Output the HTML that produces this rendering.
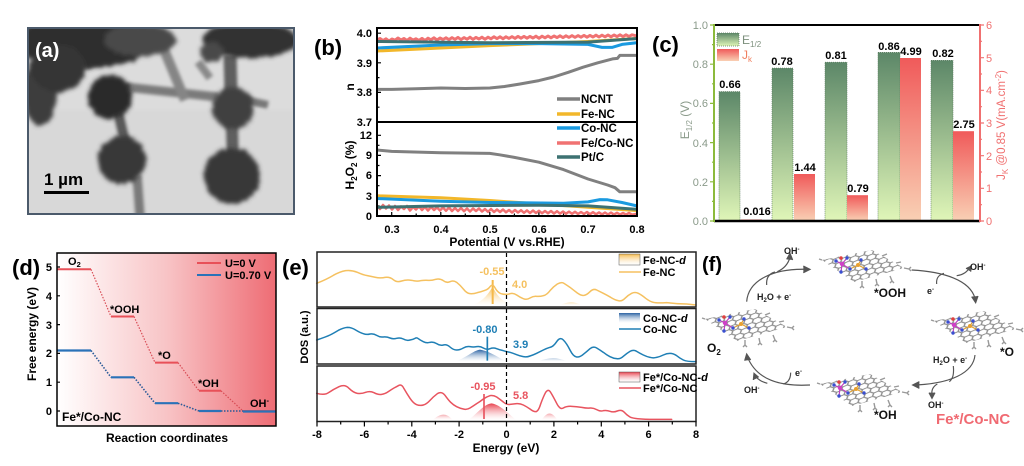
<!DOCTYPE html>
<html><head><meta charset="utf-8"><style>
html,body{margin:0;padding:0;background:#fff;}
svg{display:block;}
text{font-family:"Liberation Sans",Arial,sans-serif;}
</style></head><body>
<svg width="1024" height="466" viewBox="0 0 1024 466" xmlns="http://www.w3.org/2000/svg">
<defs>
<filter id="blur" x="-10%" y="-10%" width="120%" height="120%"><feGaussianBlur stdDeviation="1.6"/></filter>
<filter id="fuzz" x="-20%" y="-20%" width="140%" height="140%">
<feTurbulence type="fractalNoise" baseFrequency="0.25" numOctaves="2" seed="3" result="n"/>
<feDisplacementMap in="SourceGraphic" in2="n" scale="6" xChannelSelector="R" yChannelSelector="G" result="d"/>
<feGaussianBlur in="d" stdDeviation="2"/>
</filter>
<clipPath id="clipA"><rect x="28" y="28" width="266" height="186"/></clipPath>
<linearGradient id="gGreen" x1="0" y1="0" x2="0" y2="1"><stop offset="0" stop-color="#5c8768"/><stop offset="1" stop-color="#e0f6b8"/></linearGradient>
<linearGradient id="gRed" x1="0" y1="0" x2="0" y2="1"><stop offset="0" stop-color="#f05a5a"/><stop offset="1" stop-color="#f9d0b4"/></linearGradient>
<linearGradient id="gD" x1="0" y1="0" x2="1" y2="0"><stop offset="0" stop-color="#ffffff"/><stop offset="0.5" stop-color="#f8c4c6"/><stop offset="1" stop-color="#ee6c74"/></linearGradient>
<linearGradient id="gOr" x1="0" y1="0" x2="0" y2="1"><stop offset="0" stop-color="#f5b94a"/><stop offset="1" stop-color="#ffffff" stop-opacity="0.3"/></linearGradient>
<linearGradient id="gBl" x1="0" y1="0" x2="0" y2="1"><stop offset="0" stop-color="#2a62a3"/><stop offset="1" stop-color="#ffffff" stop-opacity="0.3"/></linearGradient>
<linearGradient id="gRd" x1="0" y1="0" x2="0" y2="1"><stop offset="0" stop-color="#e8404c"/><stop offset="1" stop-color="#ffffff" stop-opacity="0.3"/></linearGradient>
<pattern id="hexp" width="8.66" height="15" patternUnits="userSpaceOnUse" patternTransform="rotate(-6) skewX(-25) scale(1,0.62)">
<path d="M4.33,0 L8.66,2.5 L8.66,7.5 L4.33,10 L0,7.5 L0,2.5 Z M4.33,10 L4.33,15" fill="none" stroke="#8c8c8c" stroke-width="1.5"/>
</pattern>
<g id="mol">
<polygon points="2,10 52,0 84,18 34,32" fill="url(#hexp)"/>
<g stroke="#999" stroke-width="1.4" fill="none">
<path d="M84,18 l5,1 M89,19 l2,-2 M89,19 l2,2"/>
<path d="M70,26 l2,5 M72,31 l-2,2 M72,31 l2,2"/>
<path d="M56,29 l1,5 M57,34 l-2,2 M57,34 l2,2"/>
<path d="M42,31 l0,5 M42,36 l-2,2 M42,36 l2,2"/>
<path d="M2,10 l-3,-1 M76,13 l5,-1 M62,6 l5,-2"/>
</g>
<g stroke="#c040c0" stroke-width="1.2"><path d="M22,14 L16,11 M22,14 L27,8 M22,14 L30,19 M22,14 L21,22"/></g>
<g stroke="#e0a030" stroke-width="1.2"><path d="M38,15 L30,19 M38,15 L41,10 M38,15 L46,19"/></g>
<circle cx="16" cy="11" r="1.7" fill="#3a4fd0"/><circle cx="27" cy="8" r="1.7" fill="#3a4fd0"/><circle cx="30" cy="19" r="1.7" fill="#3a4fd0"/><circle cx="21" cy="22" r="1.7" fill="#3a4fd0"/><circle cx="41" cy="10" r="1.7" fill="#3a4fd0"/><circle cx="46" cy="19" r="1.7" fill="#3a4fd0"/>
<circle cx="22" cy="14" r="2.2" fill="#d040c8"/><circle cx="38" cy="15" r="2" fill="#e8a030"/>
<circle cx="21" cy="8" r="1.8" fill="#e04040"/>
</g>
</defs>
<rect width="1024" height="466" fill="#fff"/>

<!-- ============ (a) TEM ============ -->
<rect x="28" y="28" width="266" height="186" fill="#dcdcdc"/>
<g clip-path="url(#clipA)">
<g filter="url(#blur)">
<rect x="28" y="110" width="266" height="104" fill="#d8d8d8"/>
<line x1="125" y1="87" x2="218" y2="97" stroke="#7a7a7a" stroke-width="9"/>
<line x1="160" y1="40" x2="185" y2="100" stroke="#858585" stroke-width="10"/>
<line x1="230" y1="55" x2="233" y2="165" stroke="#5e5e5e" stroke-width="13"/>
<line x1="137" y1="175" x2="140" y2="216" stroke="#7a7a7a" stroke-width="10"/>
<line x1="118" y1="112" x2="125" y2="142" stroke="#5a5a5a" stroke-width="11"/>
<line x1="245" y1="100" x2="268" y2="105" stroke="#777" stroke-width="8"/>
<line x1="70" y1="70" x2="110" y2="58" stroke="#8a8a8a" stroke-width="8"/>
<line x1="198" y1="62" x2="210" y2="78" stroke="#8a8a8a" stroke-width="8"/>
</g>
<g filter="url(#fuzz)">
<ellipse cx="85" cy="42" rx="70" ry="26" fill="#2e2e2e"/>
<ellipse cx="40" cy="92" rx="17" ry="34" fill="#3e3e3e"/>
<ellipse cx="58" cy="68" rx="28" ry="24" fill="#363636"/>
<ellipse cx="140" cy="40" rx="36" ry="16" fill="#4a4a4a"/>
<ellipse cx="250" cy="40" rx="48" ry="18" fill="#303030"/>
<ellipse cx="212" cy="52" rx="12" ry="10" fill="#4a4a4a"/>
<circle cx="110" cy="97" r="22" fill="#2c2c2c"/>
<circle cx="122" cy="160" r="24" fill="#383838"/>
<circle cx="233" cy="108" r="21" fill="#414141"/>
<circle cx="232" cy="176" r="28" fill="#373737"/>
</g>
</g>
<rect x="28" y="28" width="266" height="186" fill="none" stroke="#4b5a6b" stroke-width="2"/>
<text x="35" y="57" font-size="20" font-weight="bold" fill="#fff">(a)</text>
<text x="44" y="185" font-size="17" font-weight="bold" fill="#000">1 µm</text>
<rect x="44" y="191" width="45" height="3" fill="#000"/>

<!-- ============ (b) ============ -->
<text x="314" y="55" font-size="22" font-weight="bold">(b)</text>
<g font-size="11" font-weight="bold" text-anchor="end">
<text x="372" y="37">4.0</text><text x="372" y="67">3.9</text><text x="372" y="96">3.8</text><text x="372" y="126">3.7</text>
<text x="372" y="139">12</text><text x="372" y="159">9</text><text x="372" y="179">6</text><text x="372" y="200">3</text><text x="372" y="220">0</text>
</g>
<g font-size="11" font-weight="bold" text-anchor="middle">
<text x="392" y="233">0.3</text><text x="441" y="233">0.4</text><text x="490" y="233">0.5</text><text x="539" y="233">0.6</text><text x="588" y="233">0.7</text><text x="637" y="233">0.8</text>
</g>
<text x="507" y="246" font-size="12" font-weight="bold" text-anchor="middle">Potential (V vs.RHE)</text>
<text transform="translate(354,87) rotate(-90)" font-size="12" font-weight="bold" text-anchor="middle">n</text>
<text transform="translate(354,165) rotate(-90)" font-size="12" font-weight="bold" text-anchor="middle">H<tspan font-size="8" dy="3">2</tspan><tspan dy="-3">O</tspan><tspan font-size="8" dy="3">2</tspan><tspan dy="-3"> (%)</tspan></text>
<g stroke="#000" stroke-width="1.2">
<path d="M377,33.2h4M377,62.8h4M377,92.4h4M377,48h2.5M377,77.6h2.5M377,107.2h2.5"/>
<path d="M377,135.3h4M377,155.4h4M377,175.6h4M377,195.8h4M377,145.3h2.5M377,165.5h2.5M377,185.7h2.5M377,205.9h2.5"/>
<path d="M391.7,216v-4M440.8,216v-4M489.8,216v-4M538.9,216v-4M588,216v-4M416.2,216v-2.5M465.3,216v-2.5M514.4,216v-2.5M563.5,216v-2.5M612.5,216v-2.5"/>
</g>
<g fill="none" stroke-width="3" stroke-linejoin="round">
<polyline stroke="#808080" points="377,89.4 391.7,89.4 416.2,88.8 440.8,88 465.3,88.5 489.8,88 504.5,86.5 519.3,84.1 538.9,80.6 553.6,77 568.3,72.3 583.1,67.2 597.8,62.8 612.5,58.9 617.4,58.4 619.8,55.4 637,55.4"/>
<polyline stroke="#f2b72a" points="377,51 440.8,48 489.8,45.6 538.9,43.6 588,41.5 637,38.5"/>
<polyline stroke="#1a9ae0" points="377,48 440.8,45 489.8,43.6 538.9,43.6 588,44.4 602,47.4 612,47.4 622,44.4 637,42.7"/>
<polyline stroke="#f07272" stroke-width="3" points="377,40 380,38.5 383,40.5 386,38.8 389,41 392,39 395,40.2 398,38 401,40 404,38.5 407,40.5 410,38.2 413,40 416,38.8 419,40.4 422,38.4 425,40.5 428,38.2 431,39.8 434,37.8 437,40 440,38 443,39.5 446,37.8 449,39.6 452,37.6 455,39.4 458,37.4 461,39.6 464,37.6 467,39.2 470,37.2 473,39.4 476,37.4 479,39 482,37.2 485,39.2 488,37.2 491,38.8 494,36.8 497,38.6 500,36.8 503,38.8 506,36.8 509,38.4 512,36.6 515,38.4 518,36.4 521,38.2 524,36.4 527,38.2 530,36.4 533,38 536,36.2 539,38.2 542,36.2 545,37.8 548,36 551,37.8 554,36 557,37.6 560,35.8 563,37.6 566,35.8 569,37.4 572,35.6 575,37.4 578,35.6 581,37.2 584,35.4 587,37.2 590,35.4 593,37 596,35.2 599,37 602,35.2 605,36.8 608,35 611,36.8 614,35 617,36.6 620,34.8 623,36.6 626,34.8 629,36.4 632,34.8 637,36"/>
<polyline stroke="#3d7272" points="377,41.5 489.8,42.7 588,42.1 637,38.5"/>
<polyline stroke="#808080" points="377,150 391.7,151.4 440.8,152.7 489.8,153.4 499.6,154.8 514.4,157.4 538.9,162.2 563.5,169.6 588,179 607.6,185 615,187.7 619.8,191.8 637,191.8"/>
<polyline stroke="#f2b72a" points="377,195.8 440.8,197.8 489.8,200.5 538.9,203.9 588,207.3 637,210.6"/>
<polyline stroke="#1a9ae0" points="377,198.5 440.8,201.2 489.8,202.5 563.5,203.2 588,201.9 600,199.6 607.6,199.8 622,202.5 637,205.9"/>
<polyline stroke="#f07272" stroke-width="2.5" points="377,206 380,209 383,205 386,208.5 389,205.5 392,209.5 395,206 398,210 401,206.5 404,209 407,206 410,210.5 413,207 416,209.5 419,206.5 422,210 425,207 428,210.5 431,207 434,210 437,207.5 440,210.5 443,207.5 446,210.8 449,207.5 452,211 455,208 458,211 461,208 464,211.2 467,208.5 470,211.5 473,208.5 476,211 479,208.5 482,211.5 485,209 488,211.8 491,209 494,212 497,209.5 500,212 503,209.5 506,212.3 509,210 512,212.5 515,210 518,212.5 521,210.2 524,212.8 527,210.4 530,213 533,210.5 536,213 539,210.8 542,213.2 545,211 548,213.3 551,211 554,213.5 557,211.2 560,213.6 563,211.5 566,213.7 569,211.6 572,213.8 575,211.8 578,214 581,212 584,214 587,212 590,214.2 593,212.2 596,214.3 599,212.4 602,214.4 605,212.5 608,214.5 611,212.6 614,214.5 617,212.8 620,214.6 623,213 626,214.6 629,213 632,214.6 637,213.8"/>
<polyline stroke="#3d7272" points="377,207.3 440.8,205.9 538.9,205.2 588,205.9 637,209.3"/>
</g>
<rect x="377" y="28" width="260" height="188" fill="none" stroke="#000" stroke-width="2"/>
<line x1="377" y1="122" x2="637" y2="122" stroke="#000" stroke-width="2"/>
<g stroke-width="3.5">
<line x1="557" y1="99" x2="580" y2="99" stroke="#808080"/>
<line x1="557" y1="114" x2="580" y2="114" stroke="#f2b72a"/>
<line x1="557" y1="128" x2="580" y2="128" stroke="#1a9ae0"/>
<line x1="557" y1="143" x2="580" y2="143" stroke="#f07272"/>
<line x1="557" y1="157" x2="580" y2="157" stroke="#3d7272"/>
</g>
<g font-size="11.5" font-weight="bold">
<text x="581" y="103">NCNT</text><text x="581" y="118">Fe-NC</text><text x="581" y="132">Co-NC</text><text x="581" y="147">Fe/Co-NC</text><text x="581" y="161">Pt/C</text>
</g>

<!-- ============ (c) ============ -->
<text x="652" y="52" font-size="22" font-weight="bold">(c)</text>
<g stroke="#5a7a5e" stroke-width="0.7" stroke-dasharray="1,1">
<rect x="719" y="91.6" width="21" height="129.4" fill="url(#gGreen)"/>
<rect x="772" y="68.1" width="21" height="152.9" fill="url(#gGreen)"/>
<rect x="825" y="62.2" width="22" height="158.8" fill="url(#gGreen)"/>
<rect x="878" y="52.4" width="22" height="168.6" fill="url(#gGreen)"/>
<rect x="931" y="60.3" width="22" height="160.7" fill="url(#gGreen)"/>
</g>
<rect x="741" y="219.5" width="21" height="1.5" fill="url(#gRed)"/>
<rect x="794" y="174" width="21" height="47" fill="url(#gRed)"/>
<rect x="847" y="195.2" width="21" height="25.8" fill="url(#gRed)"/>
<rect x="900" y="58" width="21" height="163" fill="url(#gRed)"/>
<rect x="953" y="131.2" width="21" height="89.8" fill="url(#gRed)"/>
<g font-size="11" font-weight="bold" text-anchor="middle">
<text x="730" y="88">0.66</text><text x="757" y="215">0.016</text><text x="782" y="65">0.78</text><text x="805" y="171">1.44</text>
<text x="836" y="59">0.81</text><text x="858" y="192">0.79</text><text x="889" y="50">0.86</text><text x="911" y="55">4.99</text>
<text x="943" y="57">0.82</text><text x="964" y="128">2.75</text>
</g>
<line x1="714" y1="25" x2="980" y2="25" stroke="#000" stroke-width="2"/>
<line x1="714" y1="221" x2="980" y2="221" stroke="#000" stroke-width="2.5"/>
<line x1="714" y1="24" x2="714" y2="222" stroke="#8cba3c" stroke-width="2"/>
<line x1="980" y1="24" x2="980" y2="222" stroke="#f07070" stroke-width="2"/>
<g stroke="#8cba3c" stroke-width="1.2"><path d="M714,221h-4M714,181.8h-4M714,142.6h-4M714,103.4h-4M714,64.2h-4M714,25h-4M714,201.4h-2M714,162.2h-2M714,123h-2M714,83.8h-2M714,44.6h-2"/></g>
<g stroke="#f07070" stroke-width="1.2"><path d="M980,221h4M980,188.3h4M980,155.7h4M980,123h4M980,90.3h4M980,57.7h4M980,25h4M980,204.7h2M980,172h2M980,139.3h2M980,106.7h2M980,74h2M980,41.3h2"/></g>
<g font-size="11" fill="#8a9a8a" text-anchor="end">
<text x="708" y="225">0.0</text><text x="708" y="186">0.2</text><text x="708" y="147">0.4</text><text x="708" y="107">0.6</text><text x="708" y="68">0.8</text><text x="708" y="29">1.0</text>
</g>
<g font-size="11" fill="#f07070">
<text x="986" y="225">0</text><text x="986" y="192">1</text><text x="986" y="160">2</text><text x="986" y="127">3</text><text x="986" y="94">4</text><text x="986" y="62">5</text><text x="986" y="29">6</text>
</g>
<text transform="translate(689,120) rotate(-90)" font-size="12" fill="#8a9a8a" text-anchor="middle">E<tspan font-size="8" dy="3">1/2</tspan><tspan dy="-3"> (V)</tspan></text>
<text transform="translate(1005,125) rotate(-90)" font-size="11.5" fill="#f07070" text-anchor="middle">J<tspan font-size="8" dy="3">K</tspan><tspan dy="-3"> @0.85 V(mA.cm</tspan><tspan font-size="8" dy="-4">-2</tspan><tspan dy="4">)</tspan></text>
<rect x="717" y="33" width="22" height="13" fill="url(#gGreen)" stroke="#5a7a5e" stroke-width="0.7" stroke-dasharray="1,1"/>
<rect x="717" y="49" width="22" height="12" fill="url(#gRed)"/>
<text x="742" y="44" font-size="12" fill="#7c8f7c">E<tspan font-size="8" dy="3">1/2</tspan></text>
<text x="742" y="59" font-size="12" fill="#f08060">J<tspan font-size="8" dy="3">k</tspan></text>

<!-- ============ (d) ============ -->
<text x="12" y="275" font-size="22" font-weight="bold">(d)</text>
<rect x="57" y="253" width="219" height="173" fill="url(#gD)"/>
<g stroke-width="1.2" stroke-dasharray="1.5,1.5" fill="none">
<path stroke="#d84c55" d="M91,269.3L111,316.5M134,316.5L155,362.6M178,362.6L199,390.8M221,390.8L243,411"/>
<path stroke="#2a5a98" stroke-width="1.6" d="M91,350.5L111,377.3M134,377.3L155,403.2M178,403.2L199,411M221,411L243,411"/>
</g>
<g stroke="#e85058" stroke-width="2">
<path d="M57,269.3H91M111,316.5H134M155,362.6H178M199,390.8H221M243,411H276"/>
</g>
<g stroke="#2a72b8" stroke-width="2.2">
<path d="M57,350.5H91M111,377.3H134M155,403.2H178M199,411H221M243,411.5H276"/>
</g>
<rect x="57" y="253" width="219" height="173" fill="none" stroke="#000" stroke-width="1.5"/>
<g stroke="#000" stroke-width="1.2"><path d="M57,267h3M57,295.8h3M57,324.6h3M57,353.4h3M57,382.2h3M57,411h3"/></g>
<g font-size="11" font-weight="bold" text-anchor="end">
<text x="52" y="271">5</text><text x="52" y="300">4</text><text x="52" y="329">3</text><text x="52" y="357">2</text><text x="52" y="386">1</text><text x="52" y="415">0</text>
</g>
<text transform="translate(36,334) rotate(-90)" font-size="12" font-weight="bold" text-anchor="middle">Free energy (eV)</text>
<text x="167" y="442" font-size="12" font-weight="bold" text-anchor="middle">Reaction coordinates</text>
<g font-size="11" font-weight="bold">
<text x="68" y="265">O<tspan font-size="7.5" dy="2">2</tspan></text>
<text x="110" y="313">*OOH</text>
<text x="158" y="359">*O</text>
<text x="198" y="387">*OH</text>
<text x="250" y="407">OH<tspan font-size="7.5" dy="-4">-</tspan></text>
<text x="62" y="421" font-size="12">Fe*/Co-NC</text>
<text x="225" y="267">U=0 V</text>
<text x="225" y="279">U=0.70 V</text>
</g>
<line x1="197" y1="263" x2="221" y2="263" stroke="#e85058" stroke-width="2"/>
<line x1="197" y1="275" x2="221" y2="275" stroke="#2a72b8" stroke-width="2"/>

<!-- ============ (e) ============ -->
<text x="282" y="275" font-size="22" font-weight="bold">(e)</text>
<g transform="translate(300,240) scale(0.33333)">
<path d="M515,196 C540,188 560,172 578,140 C592,172 612,188 642,196 Z" fill="url(#gOr)"/>
<path d="M780,196 C800,186 820,182 845,196 Z" fill="url(#gOr)" opacity="0.4"/>
<line x1="578" y1="120" x2="578" y2="192" stroke="#f5b94a" stroke-width="6"/>
<path d="M468,364 C500,352 520,332 540,329 C562,332 590,348 616,364 Z" fill="url(#gBl)"/>
<path d="M715,364 C740,354 770,350 800,364 Z" fill="url(#gBl)" opacity="0.35"/>
<line x1="562" y1="290" x2="562" y2="362" stroke="#1f7fb5" stroke-width="5"/>
<path d="M505,540 C530,522 552,492 575,490 C600,494 625,520 648,540 Z" fill="url(#gRd)"/>
<path d="M398,540 C418,522 438,515 458,540 Z" fill="url(#gRd)" opacity="0.45"/>
<path d="M725,540 C740,516 755,512 772,540 Z" fill="url(#gRd)" opacity="0.45"/>
<line x1="552" y1="462" x2="552" y2="537" stroke="#e8545f" stroke-width="5"/>
<g fill="none" stroke-width="4.5" stroke-linejoin="round" stroke-linecap="round">
<path stroke="#f5c160" d="M50,130 Q80,118 100,106 Q120,95 137,92 Q155,90 172,97 Q190,105 202,107 Q215,110 227,112 Q240,115 255,112 Q270,110 280,119 Q290,128 305,123 Q320,118 335,121 Q350,125 362,122 Q375,120 385,121 Q395,122 407,118 Q420,115 430,122 Q440,130 450,125 Q460,120 470,127 Q480,135 490,147 Q500,160 510,161 Q520,162 532,158 Q545,155 555,151 Q565,148 571,139 Q578,130 586,145 Q595,160 607,162 Q620,165 630,161 Q640,158 650,165 Q660,172 670,176 Q680,180 690,174 Q700,168 710,169 Q720,170 730,167 Q740,165 750,152 Q760,140 772,132 Q785,125 792,130 Q800,135 810,142 Q820,150 832,159 Q845,168 852,166 Q860,165 870,155 Q880,145 890,150 Q900,155 910,160 Q920,165 932,172 Q945,180 955,182 Q965,185 975,175 Q985,165 995,160 Q1005,155 1015,160 Q1025,165 1037,175 Q1050,185 1060,187 Q1070,190 1100,188 Q1130,192 1160,192 L1188,195"/>
<path stroke="#1f7fb5" d="M50,300 Q80,290 90,285 Q100,280 115,271 Q130,263 142,262 Q155,262 167,270 Q180,278 190,281 Q200,285 210,282 Q220,280 230,286 Q240,292 250,291 Q260,290 270,294 Q280,298 290,295 Q300,292 310,297 Q320,303 330,300 Q340,298 345,295 Q350,292 355,296 Q360,300 370,305 Q380,310 390,307 Q400,305 410,311 Q420,318 430,315 Q440,312 450,321 Q460,330 470,330 Q480,330 490,324 Q500,318 510,320 Q520,322 530,320 Q540,318 550,324 Q560,330 570,326 Q580,322 590,326 Q600,330 610,332 Q620,335 630,337 Q640,340 650,344 Q660,348 670,350 Q680,352 690,348 Q700,345 710,340 Q720,335 730,330 Q740,325 750,322 Q760,320 770,305 Q780,290 790,300 Q800,310 810,330 Q820,350 830,351 Q840,352 850,343 Q860,335 870,326 Q880,318 890,324 Q900,330 910,337 Q920,345 930,350 Q940,355 950,356 Q960,358 970,349 Q980,340 990,334 Q1000,328 1010,334 Q1020,340 1030,345 Q1040,350 1050,352 Q1060,355 1070,352 Q1080,350 1090,345 Q1100,340 1110,340 Q1120,340 1130,347 Q1140,355 1150,360 Q1160,365 1188,365"/>
<path stroke="#e8545f" d="M50,460 Q75,467 87,457 Q100,448 117,440 Q135,432 147,445 Q160,458 172,460 Q185,462 197,457 Q210,452 222,458 Q235,465 245,463 Q255,462 265,455 Q275,448 282,444 Q290,440 297,436 Q305,432 312,446 Q320,460 330,475 Q340,490 350,494 Q360,498 370,495 Q380,492 390,481 Q400,470 412,461 Q425,453 435,466 Q445,480 452,487 Q460,495 470,500 Q480,505 490,507 Q500,510 510,504 Q520,498 530,491 Q540,485 550,477 Q560,470 570,467 Q580,465 590,471 Q600,478 610,486 Q620,495 630,493 Q640,492 650,491 Q660,490 670,495 Q680,500 690,507 Q700,515 707,515 Q715,515 722,492 Q730,470 737,457 Q745,445 752,457 Q760,470 770,490 Q780,510 790,504 Q800,498 815,499 Q830,500 845,502 Q860,505 870,504 Q880,503 890,509 Q900,515 910,512 Q920,510 930,514 Q940,518 952,513 Q965,508 972,516 Q980,525 990,531 Q1000,537 1050,538 L1115,538"/>
</g>
</g>
<g fill="none" stroke="#222" stroke-width="1.5">
<rect x="317" y="252" width="379" height="55"/>
<rect x="317" y="308.5" width="379" height="55.5"/>
<rect x="317" y="366" width="379" height="55.5"/>
</g>
<line x1="506.5" y1="253" x2="506.5" y2="421" stroke="#000" stroke-width="1.2" stroke-dasharray="4,3"/>
<g stroke="#000" stroke-width="1.2"><path d="M317,421.5v5M364.4,421.5v5M411.8,421.5v5M459.1,421.5v5M506.5,421.5v5M553.9,421.5v5M601.3,421.5v5M648.6,421.5v5M696,421.5v5M340.7,421.5v3M388.1,421.5v3M435.4,421.5v3M482.8,421.5v3M530.2,421.5v3M577.6,421.5v3M624.9,421.5v3M672.3,421.5v3"/></g>
<g font-size="11" font-weight="bold" text-anchor="middle">
<text x="317" y="438">-8</text><text x="364.4" y="438">-6</text><text x="411.8" y="438">-4</text><text x="459.1" y="438">-2</text><text x="506.5" y="438">0</text><text x="553.9" y="438">2</text><text x="601.3" y="438">4</text><text x="648.6" y="438">6</text><text x="696" y="438">8</text>
</g>
<text x="506" y="452" font-size="12" font-weight="bold" text-anchor="middle">Energy (eV)</text>
<text transform="translate(308,337) rotate(-90)" font-size="11" font-weight="bold" text-anchor="middle">DOS (a.u.)</text>
<g font-size="11" font-weight="bold">
<text x="492" y="275" fill="#f5c160" text-anchor="middle">-0.55</text>
<text x="512" y="288" fill="#f5c160">4.0</text>
<text x="485" y="333" fill="#1f7fb5" text-anchor="middle">-0.80</text>
<text x="513" y="348" fill="#1f7fb5">3.9</text>
<text x="483" y="390" fill="#e8545f" text-anchor="middle">-0.95</text>
<text x="513" y="399" fill="#e8545f">5.8</text>
</g>
<rect x="619" y="254" width="21" height="11" fill="url(#gOr)" stroke="#555" stroke-width="0.5"/>
<line x1="619" y1="272" x2="641" y2="272" stroke="#f5c160" stroke-width="1.5"/>
<rect x="619" y="313" width="21" height="10" fill="url(#gBl)"/>
<line x1="619" y1="329" x2="641" y2="329" stroke="#1f7fb5" stroke-width="1.5"/>
<rect x="619" y="372" width="21" height="10" fill="url(#gRd)" stroke="#555" stroke-width="0.5"/>
<line x1="619" y1="388" x2="641" y2="388" stroke="#e8545f" stroke-width="1.5"/>
<g font-size="11" font-weight="bold">
<text x="643" y="264">Fe-NC-<tspan font-style="italic">d</tspan></text><text x="643" y="276">Fe-NC</text>
<text x="643" y="322">Co-NC-<tspan font-style="italic">d</tspan></text><text x="643" y="333">Co-NC</text>
<text x="643" y="381">Fe*/Co-NC-<tspan font-style="italic">d</tspan></text><text x="643" y="392">Fe*/Co-NC</text>
</g>

<!-- ============ (f) ============ -->
<text x="702" y="271" font-size="20" font-weight="bold">(f)</text>
<use href="#mol" x="703" y="309"/>
<use href="#mol" x="820" y="250"/>
<use href="#mol" x="932" y="311"/>
<use href="#mol" x="818" y="374"/>
<g transform="translate(690,240) scale(0.33333)" fill="none" stroke="#555" stroke-width="3.5">
<path d="M170,185 C175,120 250,85 350,88"/>
<path d="M340,78 L360,88 L340,98" fill="#555"/>
<path d="M262,95 C285,85 295,70 300,52"/><path d="M290,58 L300,40 L308,60" fill="#555"/>
<path d="M230,135 C228,110 240,100 255,96"/>
<path d="M665,90 C760,95 840,120 855,175"/><path d="M845,170 L857,188 L864,168" fill="#555"/>
<path d="M740,132 C738,112 748,104 762,100"/>
<path d="M800,107 C822,104 830,95 838,85"/><path d="M828,86 L844,78 L842,95" fill="#555"/>
<path d="M855,345 C850,400 780,430 678,435"/><path d="M688,425 L668,435 L688,445" fill="#555"/>
<path d="M790,378 C792,400 790,415 778,425"/>
<path d="M742,432 C728,440 724,452 726,465"/><path d="M717,458 L726,475 L735,458" fill="#555"/>
<path d="M360,435 C270,440 200,420 172,350"/><path d="M164,362 L170,342 L182,360" fill="#555"/>
<path d="M302,398 C302,418 294,428 280,432"/>
<path d="M232,430 C215,425 205,420 196,408"/><path d="M190,420 L192,400 L206,412" fill="#555"/>
</g>
<g font-size="9" font-weight="bold" fill="#222">
<text x="784" y="254">OH<tspan font-size="6" dy="-3">-</tspan></text>
<text x="757" y="300">H<tspan font-size="6" dy="2">2</tspan><tspan dy="-2">O + e</tspan><tspan font-size="6" dy="-3">-</tspan></text>
<text x="927" y="294">e<tspan font-size="6" dy="-3">-</tspan></text>
<text x="970" y="270">OH<tspan font-size="6" dy="-3">-</tspan></text>
<text x="933" y="363">H<tspan font-size="6" dy="2">2</tspan><tspan dy="-2">O + e</tspan><tspan font-size="6" dy="-3">-</tspan></text>
<text x="928" y="408">OH<tspan font-size="6" dy="-3">-</tspan></text>
<text x="795" y="376">e<tspan font-size="6" dy="-3">-</tspan></text>
<text x="744" y="393">OH<tspan font-size="6" dy="-3">-</tspan></text>
</g>
<g font-size="12" font-weight="bold" fill="#111">
<text x="874" y="297">*OOH</text>
<text x="1000" y="356">*O</text>
<text x="874" y="419">*OH</text>
<text x="707" y="352">O<tspan font-size="8" dy="3">2</tspan></text>
</g>
<text x="936" y="424" font-size="15" font-weight="bold" fill="#f06a72">Fe*/Co-NC</text>
</svg>
</body></html>
